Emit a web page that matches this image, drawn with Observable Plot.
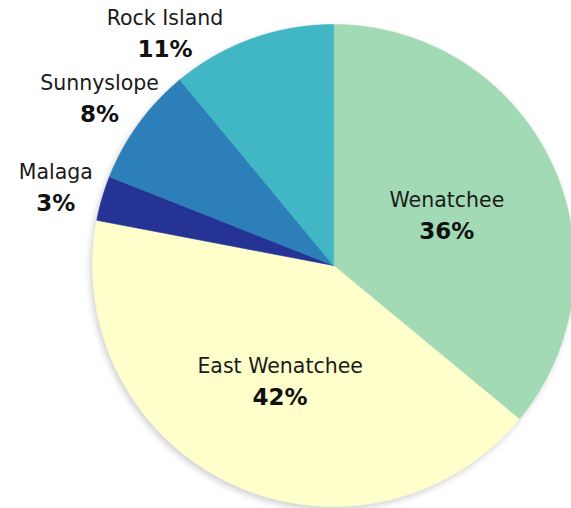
<!DOCTYPE html>
<html><head><meta charset="utf-8">
<script src="https://cdn.jsdelivr.net/npm/d3@7"></script>
<script src="https://cdn.jsdelivr.net/npm/@observablehq/plot@0.6"></script>
<style>
  html,body{margin:0;padding:0;background:#fff;}
  #chart svg{display:block;}
</style>
</head><body><div id="chart"></div>
<script>
// ---- data ----
const regions = ["Wenatchee", "East Wenatchee", "Malaga", "Sunnyslope", "Rock Island"];
const shares = [36, 42, 3, 8, 11];
const colors = ["#a1dab4", "#ffffcc", "#253494", "#2c7fb8", "#41b6c4"];
const placement = ["inside", "inside", "outside", "outside", "outside"];

// ---- layout ----
const W = 571, H = 508;
const cx = 333, cy = 265, R = 241; // pixel geometry of the pie within the frame

const arcs = d3.pie().sort(null).value(d => d.share)(
  regions.map((name, i) => ({name, share: shares[i], place: placement[i]}))
);

// slice polygons in unit coordinates (angle measured clockwise from 12 o'clock)
const pts = [];
for (const s of arcs) {
  pts.push({name: s.data.name, x: 0, y: 0});
  const n = Math.max(2, Math.ceil((s.endAngle - s.startAngle) / 0.005));
  for (let k = 0; k <= n; k++) {
    const a = s.startAngle + (s.endAngle - s.startAngle) * k / n;
    pts.push({name: s.data.name, x: Math.sin(a), y: Math.cos(a)});
  }
}

// label anchors: inside at 0.52R; outside at 1.2R, slid along the ring to stay inside the frame
const yMax = (cy - 30) / R;
const labels = arcs.map(s => {
  let a = (s.startAngle + s.endAngle) / 2;
  const r = s.data.place === "inside" ? 0.52 : 1.2;
  if (r * Math.cos(a) > yMax) {
    const c = Math.acos(yMax / r);
    a = Math.sin(a) < 0 ? 2 * Math.PI - c : c;
  }
  return {name: s.data.name, pct: s.data.share + "%", x: r * Math.sin(a), y: r * Math.cos(a)};
});

const font = "'DejaVu Sans', sans-serif";

const chart = Plot.plot({
  width: W,
  height: H,
  margin: 0,
  style: {background: "#fff", fontFamily: font, overflow: "visible"},
  x: {domain: [-cx / R, (W - cx) / R], axis: null},
  y: {domain: [-(H - cy) / R, cy / R], axis: null},
  color: {domain: regions, range: colors},
  marks: [
    Plot.line(pts, {x: "x", y: "y", z: "name", fill: "name", stroke: "name", strokeWidth: 0.6, curve: "linear-closed"}),
    Plot.text(labels, {x: "x", y: "y", text: "name", dy: -12, fontSize: 20.5, fill: "#1a1a1a"}),
    Plot.text(labels, {x: "x", y: "y", text: "pct", dy: 19, fontSize: 23, fontWeight: "bold", fill: "#111"})
  ]
});
const pieGroup = chart.querySelector('g[aria-label="line"]');
if (pieGroup) pieGroup.style.filter = "drop-shadow(-2px 3px 3px rgba(0,0,0,0.18))";
document.getElementById("chart").appendChild(chart);
</script>
</body></html>
